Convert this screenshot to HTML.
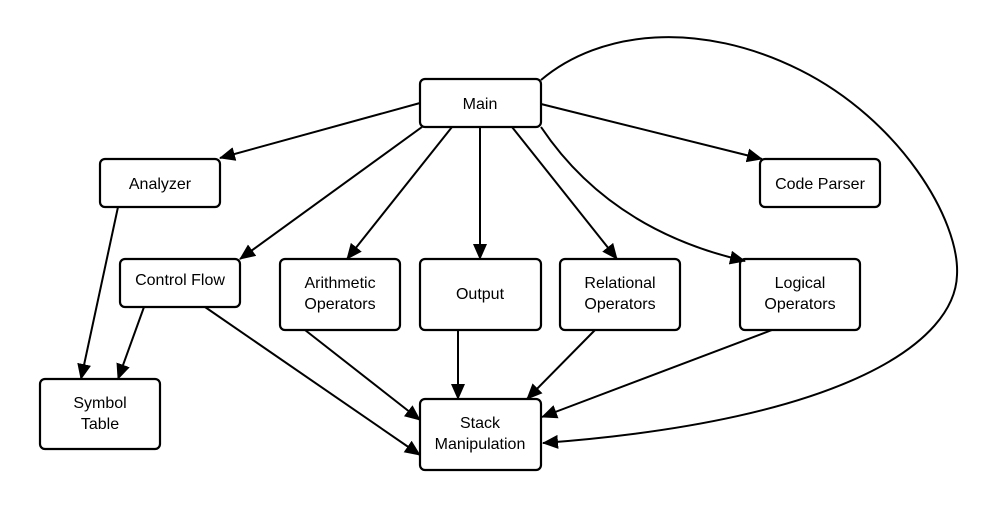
<!DOCTYPE html>
<html><head><meta charset="utf-8"><style>
html,body{margin:0;padding:0;background:#fff;width:996px;height:511px;overflow:hidden}
svg text{font-family:"Liberation Sans",sans-serif;font-size:16px;fill:#000;text-anchor:middle}
</style></head><body>
<svg width="996" height="511" viewBox="0 0 996 511">
<defs><marker id="a" markerWidth="16" markerHeight="14" refX="15" refY="7" orient="auto" markerUnits="userSpaceOnUse"><path d="M0,0 L16,7 L0,14 z" fill="#000"/></marker></defs>
<g fill="#fff" stroke="#000" stroke-width="2.2">
<rect x="420" y="79" width="121" height="48" rx="5"/>
<rect x="100" y="159" width="120" height="48" rx="5"/>
<rect x="760" y="159" width="120" height="48" rx="5"/>
<rect x="120" y="259" width="120" height="48" rx="5"/>
<rect x="280" y="259" width="120" height="71" rx="5"/>
<rect x="420" y="259" width="121" height="71" rx="5"/>
<rect x="560" y="259" width="120" height="71" rx="5"/>
<rect x="740" y="259" width="120" height="71" rx="5"/>
<rect x="40" y="379" width="120" height="70" rx="5"/>
<rect x="420" y="399" width="121" height="71" rx="5"/>
</g>
<g fill="none" stroke="#000" stroke-width="2" marker-end="url(#a)">
<line x1="420" y1="103" x2="220" y2="158"/>
<line x1="422" y1="127" x2="240" y2="259"/>
<line x1="452" y1="127" x2="347" y2="259"/>
<line x1="480" y1="127" x2="480" y2="259"/>
<line x1="512" y1="127" x2="617" y2="259"/>
<path d="M541,127 Q610,230 745,261"/>
<line x1="541" y1="104" x2="762" y2="159"/>
<line x1="118" y1="207" x2="81" y2="379"/>
<line x1="144" y1="307" x2="118" y2="379"/>
<line x1="205" y1="307" x2="420" y2="455"/>
<line x1="305" y1="330" x2="420" y2="420"/>
<line x1="458" y1="330" x2="458" y2="399"/>
<line x1="595" y1="330" x2="527" y2="399"/>
<line x1="772" y1="330" x2="542" y2="417"/>
<path d="M541,80 C600,30 700,20 800,70 C900,120 960,220 957,275 C955,340 850,420 543,443"/>
</g>
<text x="480" y="109">Main</text>
<text x="160" y="189">Analyzer</text>
<text x="820" y="189">Code Parser</text>
<text x="180" y="285">Control Flow</text>
<text x="340" y="288">Arithmetic</text>
<text x="340" y="309">Operators</text>
<text x="480" y="299">Output</text>
<text x="620" y="288">Relational</text>
<text x="620" y="309">Operators</text>
<text x="800" y="288">Logical</text>
<text x="800" y="309">Operators</text>
<text x="100" y="408">Symbol</text>
<text x="100" y="429">Table</text>
<text x="480" y="428">Stack</text>
<text x="480" y="449">Manipulation</text>
</svg>
</body></html>
